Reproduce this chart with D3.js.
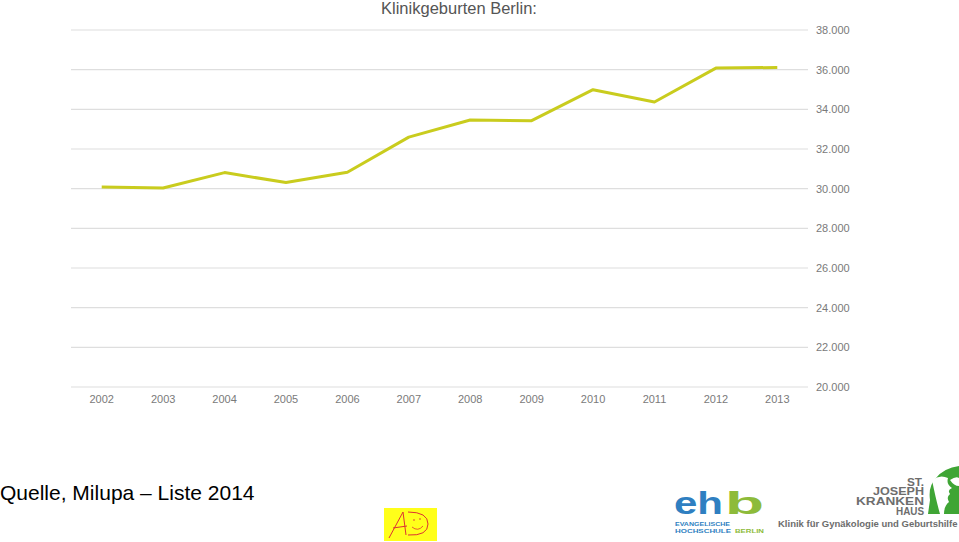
<!DOCTYPE html>
<html><head><meta charset="utf-8">
<script src="https://cdn.jsdelivr.net/npm/d3@7"></script>
<style>body{margin:0;background:#fff}svg{display:block}</style>
</head><body>
<script>
const years = ["2002","2003","2004","2005","2006","2007","2008","2009","2010","2011","2012","2013"];
const births = [30080,30030,30810,30310,30830,32600,33460,33430,34990,34370,36080,36110];
const yTicks = [20000,22000,24000,26000,28000,30000,32000,34000,36000,38000];
const title = "Klinikgeburten Berlin:";
const source = "Quelle, Milupa – Liste 2014";

const W=959,H=542;
const svg=d3.select("body").append("svg").attr("width",W).attr("height",H);
const font="'Liberation Sans', Arial, Helvetica, sans-serif";

const x=d3.scaleBand().domain(years).range([71,808]);
const y=d3.scaleLinear().domain([20000,38000]).range([387,30]);

// gridlines
svg.append("g").selectAll("line").data(yTicks).join("line")
  .attr("x1",71).attr("x2",808).attr("y1",d=>y(d)).attr("y2",d=>y(d))
  .attr("stroke","#dedede").attr("stroke-width",1.2);

// y axis (right)
const yAxis=d3.axisRight(y).tickValues(yTicks).tickSize(0).tickPadding(0)
  .tickFormat(d=>d3.format(",.0f")(d).replace(/,/g,"."));
const ga=svg.append("g").attr("transform","translate(816,0)").call(yAxis);
ga.select(".domain").remove();
ga.selectAll("text").attr("fill","#7a7a7a").style("font-family",font).style("font-size","11px");

// x axis
const xAxis=d3.axisBottom(x).tickSize(0).tickPadding(0);
const gx=svg.append("g").attr("transform","translate(0,395)").call(xAxis);
gx.select(".domain").remove();
gx.selectAll("text").attr("fill","#7a7a7a").style("font-family",font).style("font-size","11px");

// line
const line=d3.line().x((d,i)=>x(years[i])+x.bandwidth()/2).y(d=>y(d));
svg.append("path").datum(births).attr("d",line).attr("fill","none")
  .attr("stroke","#c9cc1e").attr("stroke-width",3).attr("stroke-linejoin","round");

// title
svg.append("text").attr("x",459).attr("y",14).attr("text-anchor","middle")
  .attr("fill","#555").style("font-family",font).style("font-size","16.5px").text(title);

// source
svg.append("text").attr("x",0).attr("y",500).attr("fill","#000")
  .style("font-family",font).style("font-size","21px").text(source);

// AD logo
const ad=svg.append("g");
ad.append("rect").attr("x",384).attr("y",508).attr("width",53).attr("height",33).attr("fill","#ffff1a");
ad.append("path").attr("d","M389,538 L403,512 L406,535 M393,528 L407,526").attr("stroke","#d33").attr("stroke-width",1).attr("fill","none");
ad.append("path").attr("d","M408,512 Q428,512 428,524 Q428,536 408,535").attr("stroke","#d33").attr("stroke-width",1).attr("fill","none");
ad.append("path").attr("d","M412,527 Q418,532 423,526").attr("stroke","#d33").attr("stroke-width",0.8).attr("fill","none");
ad.append("circle").attr("cx",414).attr("cy",520).attr("r",0.8).attr("fill","#d33");
ad.append("circle").attr("cx",420).attr("cy",519).attr("r",0.8).attr("fill","#d33");

// ehb logo
const eh=svg.append("g").style("font-family",font).style("font-weight","bold");
eh.append("text").attr("x",674).attr("y",514).attr("fill","#2f7fc1").style("font-size","32px")
  .attr("textLength",49).attr("lengthAdjust","spacingAndGlyphs").text("eh");
eh.append("text").attr("x",725).attr("y",514).attr("fill","#8dbb3a").style("font-size","32px")
  .attr("textLength",39).attr("lengthAdjust","spacingAndGlyphs").text("b");
const small=eh.append("text").style("font-size","6px");
small.append("tspan").attr("x",675).attr("y",526).attr("fill","#2f7fc1")
  .attr("textLength",55).attr("lengthAdjust","spacingAndGlyphs").text("EVANGELISCHE");
small.append("tspan").attr("x",675).attr("y",532.5).attr("fill","#2f7fc1")
  .attr("textLength",56).attr("lengthAdjust","spacingAndGlyphs").text("HOCHSCHULE");
small.append("tspan").attr("x",735).attr("y",532.5).attr("fill","#8dbb3a")
  .attr("textLength",29).attr("lengthAdjust","spacingAndGlyphs").text("BERLIN");

// St Joseph logo
const sj=svg.append("g").style("font-family",font).style("font-weight","bold").attr("fill","#6d6d6d");
const sjt=sj.append("text").style("font-size","10px");
[["ST.",907,485.5,17],["JOSEPH",873,495,51],["KRANKEN",856,505,68],["HAUS",896,514.5,28]].forEach(([t,xx,yy,len])=>{
  sjt.append("tspan").attr("x",xx).attr("y",yy).attr("textLength",len).attr("lengthAdjust","spacingAndGlyphs").text(t);
});
sj.append("text").attr("x",778).attr("y",527).style("font-size","9.5px").text("Klinik für Gynäkologie und Geburtshilfe");
const leaf=svg.append("g").attr("fill","#3fa535");
leaf.append("path").attr("d","M928,514 L930,500 Q928,486 936,478 Q944,468 959,466 L959,514 Z");
leaf.append("path").attr("d","M932,480 Q940,474 948,478 Q946,484 952,488 Q947,490 950,494 Q946,497 949,502 Q944,506 944,514 L940,514 Q936,500 932,480 Z").attr("fill","#fff");
leaf.append("path").attr("d","M950,480 Q956,476 959,478 L959,486 Q954,486 950,480 Z").attr("fill","#fff");
</script>
</body></html>
